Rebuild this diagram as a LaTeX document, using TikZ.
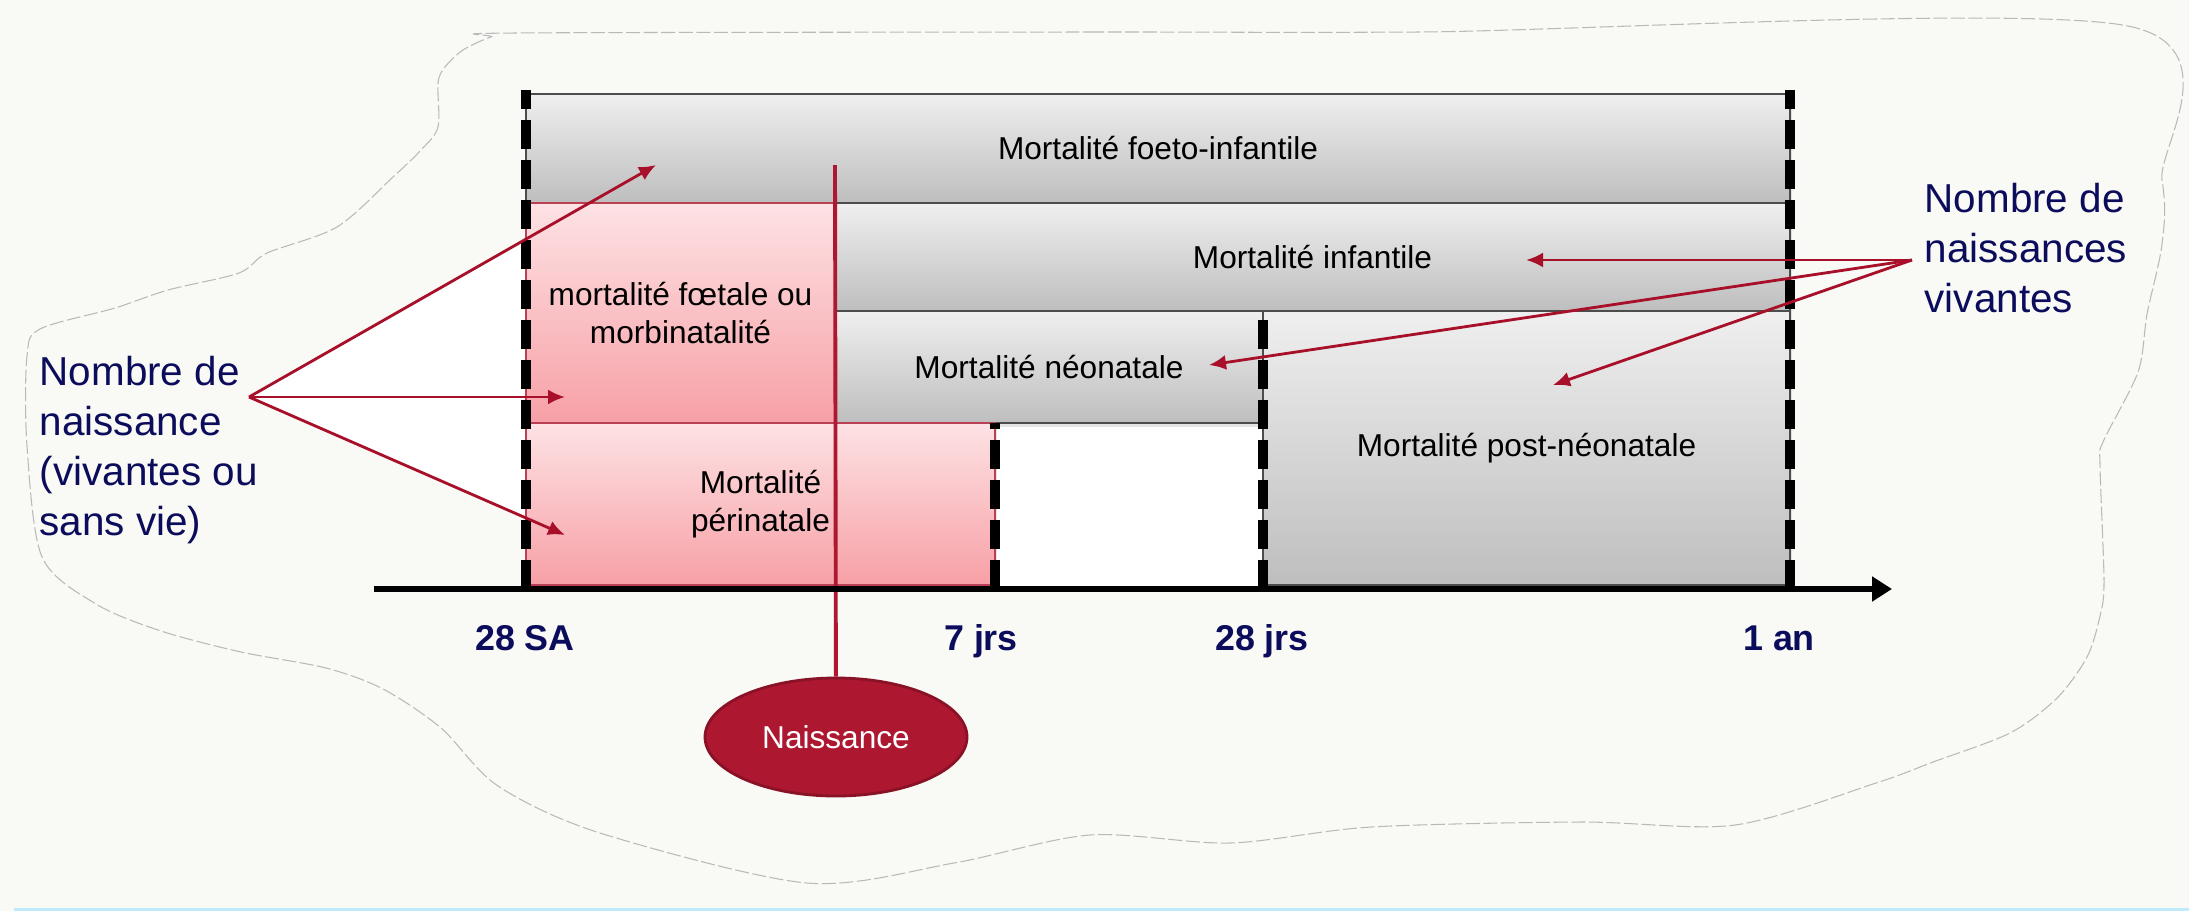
\documentclass[tikz,border=0pt]{standalone}
\usepackage{fontspec}
\setmainfont{Liberation Sans}
\usetikzlibrary{arrows.meta}
\usetikzlibrary{shapes.geometric}
\usetikzlibrary{shadows}
\definecolor{paper}{HTML}{F9F9F5}
\definecolor{navy}{HTML}{0C0C5C}
\definecolor{wine}{HTML}{A8102A}
\definecolor{birth}{HTML}{AD1730}
\definecolor{greytop}{HTML}{EFEFEF}
\definecolor{greybot}{HTML}{BEBEBE}
\definecolor{pinktop}{HTML}{FDE2E4}
\definecolor{pinkbot}{HTML}{F7A0A6}
\tikzset{periodbox/.style = {inner sep = 0, top color = greytop, bottom color = greybot,
                             draw = black!70, line width = 0.6pt, align = center,
                             font = \fontsize{9}{10.8}\selectfont,
                             drop shadow = {opacity = 0.2, shadow xshift = 0.6pt, shadow yshift = -1.2pt}}}
\tikzset{pinkbox/.style = {periodbox, top color = pinktop, bottom color = pinkbot, draw = wine!80}}
\tikzset{limit/.style = {line width = 0.1cm, dash pattern = on 0.29cm off 0.11cm}}
\tikzset{callout/.style = {wine, line width = 0.8pt, -{Latex[length = 0.17cm, width = 0.15cm]}}}
\tikzset{ticklabel/.style = {font = \fontsize{10.2}{12}\selectfont\bfseries, text = navy, anchor = base}}
\tikzset{countnote/.style = {font = \fontsize{11.5}{14.3}\selectfont, text = navy, align = left, inner sep = 0}}

\begin{document}
\begin{tikzpicture}
      \useasboundingbox (0, 0) rectangle (21.89, 9.11);
      \fill [paper] (0, 0) rectangle (21.89, 9.11);
      \draw [cyan!25, line width = 0.03cm] (0.14, 0.02) -- (21.89, 0.02);

      % sketchy frame
      \draw [gray!55, line width = 0.3pt, dash pattern = on 4pt off 1pt] plot [smooth cycle, tension = 0.5] coordinates {
        (5.16, 8.78) (10.90, 8.79) (14.20, 8.79) (21.28, 8.85) (21.62, 7.31) (21.62, 6.67)
        (21.47, 5.97) (21.38, 5.39) (21.03, 4.69) (21.00, 4.46) (21.04, 3.30) (21.00, 2.95)
        (20.87, 2.54) (20.57, 2.13) (20.10, 1.78) (19.33, 1.49) (18.76, 1.28) (17.35, 0.86)
        (15.81, 0.89) (13.71, 0.84) (12.30, 0.68) (10.90, 0.76) (9.54, 0.48) (8.07, 0.28)
        (6.00, 0.78) (4.98, 1.25) (4.41, 1.83) (3.83, 2.22) (3.26, 2.43) (2.41, 2.59)
        (1.61, 2.80) (0.96, 3.07) (0.42, 3.54) (0.27, 4.65) (0.27, 5.55) (0.40, 5.82)
        (1.15, 6.03) (1.68, 6.21) (2.39, 6.38) (2.67, 6.58) (3.37, 6.84) (3.93, 7.34)
        (4.21, 7.61) (4.38, 7.84) (4.38, 8.28) (4.45, 8.44) (4.63, 8.61) (4.91, 8.74)};

      \coordinate (lsrc) at (2.49, 5.14);
      \coordinate (lfoeto) at (6.56, 7.46);
      \coordinate (lfoetal) at (5.65, 5.14);
      \coordinate (lperi) at (5.65, 3.76);
      \coordinate (rsrc) at (19.12, 6.51);
      \coordinate (rinf) at (15.26, 6.51);
      \coordinate (rneo) at (12.09, 5.46);
      \coordinate (rpost) at (15.53, 5.26);

      \fill [white] (lsrc) -- (lfoeto) -- (lperi) -- cycle;
      \fill [white] (9.95, 3.22) rectangle (12.63, 4.88);

      % periods
      \node [periodbox, minimum width = 12.64cm, minimum height = 1.09cm] (foetoinf) at (11.58, 7.625) {Mortalité foeto-infantile};
      \node [pinkbox, minimum width = 3.09cm, minimum height = 2.20cm] (foetale) at (6.805, 5.98) {mortalité fœtale ou\\morbinatalité};
      \node [periodbox, minimum width = 9.55cm, minimum height = 1.08cm] (infantile) at (13.125, 6.54) {Mortalité infantile};
      \node [periodbox, minimum width = 4.28cm, minimum height = 1.12cm] (neonatale) at (10.49, 5.44) {Mortalité néonatale};
      \node [pinkbox, minimum width = 4.69cm, minimum height = 1.62cm] (perinatale) at (7.605, 4.07) {Mortalité\\périnatale};
      \node [periodbox, minimum width = 5.27cm, minimum height = 2.74cm] (postneo) at (15.265, 4.63) {Mortalité post-néonatale};

      % birth
      \coordinate (birthtop) at (8.35, 7.46);
      \node [ellipse, fill = birth, draw = birth!80!black, line width = 0.8pt, minimum width = 2.62cm,
             minimum height = 1.18cm, text = white, font = \fontsize{9}{10.8}\selectfont] (naiss) at (8.36, 1.74) {Naissance};
      \draw [birth, line width = 1.1pt] (birthtop) -- (naiss);

      \draw [limit] (5.26, 3.22) -- (5.26, 8.21);
      \draw [limit] (9.95, 3.22) -- (9.95, 4.88);
      \draw [limit] (12.63, 3.22) -- (12.63, 6.00);
      \draw [limit] (17.90, 3.22) -- (17.90, 8.21);

      \coordinate (axstart) at (3.74, 3.22);
      \coordinate (axend) at (18.92, 3.22);
      \draw [line width = 0.06cm, -{Triangle[length = 0.2cm, width = 0.24cm]}] (axstart) -- (axend);

      \node [ticklabel] (sa) at (5.25, 2.61) {28 SA};
      \node [ticklabel] (jrs7) at (9.81, 2.61) {7 jrs};
      \node [ticklabel] (jrs28) at (12.62, 2.61) {28 jrs};
      \node [ticklabel] (an) at (17.79, 2.61) {1 an};

      \node [countnote, anchor = west] (leftnote) at (0.39, 4.61) {Nombre de\\naissance\\(vivantes ou\\sans vie)};
      \node [countnote, anchor = west] (rightnote) at (19.24, 6.63) {Nombre de\\naissances\\vivantes};

      \draw [callout] (lsrc) -- (lfoeto);
      \draw [callout] (lsrc) -- (lfoetal);
      \draw [callout] (lsrc) -- (lperi);
      \draw [callout] (rsrc) -- (rinf);
      \draw [callout] (rsrc) -- (rneo);
      \draw [callout] (rsrc) -- (rpost);
\end{tikzpicture}
\end{document}
